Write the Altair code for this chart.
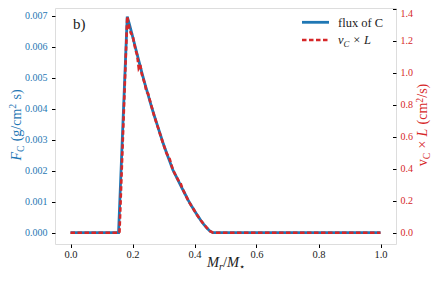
import altair as alt
import pandas as pd

# ---------------- data ----------------
x_flux = [0.0, 0.155, 0.183, 0.19, 0.20, 0.21, 0.22, 0.23, 0.24, 0.25, 0.26, 0.27, 0.28,
          0.29, 0.30, 0.31, 0.32, 0.33, 0.34, 0.35, 0.36, 0.37, 0.38, 0.39, 0.40, 0.41,
          0.42, 0.43, 0.44, 0.45, 0.46, 1.0]
flux_C = [0.0, 0.0, 0.00697, 0.00673, 0.00634, 0.00595, 0.00556, 0.00517, 0.00480, 0.00446,
          0.00411, 0.00378, 0.00347, 0.00316, 0.00285, 0.00257, 0.00230, 0.00203, 0.00183,
          0.00163, 0.00143, 0.00124, 0.00104, 0.00087, 0.00071, 0.00055, 0.00040, 0.00027,
          0.00015, 0.00005, 0.0, 0.0]

x_vL = [0.0, 0.158, 0.183, 0.19, 0.195, 0.20, 0.21, 0.215, 0.22, 0.225, 0.23, 0.24, 0.245,
        0.25, 0.26, 0.27, 0.28, 0.29, 0.30, 0.31, 0.315, 0.32, 0.33, 0.34, 0.35, 0.355,
        0.36, 0.37, 0.38, 0.39, 0.40, 0.41, 0.42, 0.43, 0.44, 0.45, 0.46, 1.0]
vC_L = [0.0, 0.0, 1.35, 1.275, 1.245, 1.235, 1.14, 1.11, 1.03, 1.05, 0.99, 0.93, 0.88,
        0.87, 0.80, 0.73, 0.67, 0.61, 0.55, 0.495, 0.48, 0.46, 0.395, 0.355, 0.32, 0.31,
        0.28, 0.24, 0.20, 0.168, 0.137, 0.106, 0.078, 0.053, 0.03, 0.01, 0.0, 0.0]

x_ticks = [0.0, 0.2, 0.4, 0.6, 0.8, 1.0]
left_ticks = [0.0, 0.001, 0.002, 0.003, 0.004, 0.005, 0.006, 0.007]
right_ticks = [0.0, 0.2, 0.4, 0.6, 0.8, 1.0, 1.2, 1.4]

BLUE = "#1f77b4"
RED = "#d62728"
DARK = "#222222"
FONT = "Liberation Serif"
W, H = 341, 236

df_flux = pd.DataFrame({"x": x_flux, "f": flux_C})
df_vl = pd.DataFrame({"x": x_vL, "v": vC_L})
one = pd.DataFrame({"a": [0]})

# approximate glyph widths (em) for laying out rich-text pieces
WN = {'(': .333, ')': .333, 'g': .5, '/': .278, 'c': .444, 'm': .778, 's': .389,
      'C': .667, '2': .5, 'f': .333, 'l': .278, 'u': .5, 'x': .5, 'o': .5, 'v': .5,
      '×': .564, 'b': .5, '⋆': .5}
WI = {'F': .611, 'v': .444, 'L': .556, 'M': .833, 'r': .389, 'C': .667}
SPACE = 0.3


def wid(t, it, s):
    tab = WI if it else WN
    return sum(SPACE if ch == ' ' else tab.get(ch, WN.get(ch, .5)) for ch in t) * s


def rich(parts, x, y, color, size, angle=0, center=True):
    total = sum(wid(t, it, size * sc) for t, it, sc, sh in parts)
    off = -total / 2 if center else 0
    layers = []
    for t, it, sc, sh in parts:
        s = size * sc
        lead = len(t) - len(t.lstrip(' '))
        core = t.strip(' ')
        off += lead * SPACE * s
        kw = dict(text=core, font=FONT, fontSize=s, fontStyle="italic" if it else "normal",
                  color=color, align="left", baseline="alphabetic", dx=off, dy=sh * size)
        if angle:
            kw["angle"] = angle
        layers.append(alt.Chart(one).mark_text(**kw).encode(x=alt.value(x), y=alt.value(y)))
        off += wid(t, it, s) - lead * SPACE * s
    return layers


xax = alt.Axis(values=x_ticks, format=".1f", title=None, grid=False, domain=False,
               tickSize=3.5, tickColor="black", labelFont=FONT, labelFontSize=10.5,
               labelColor=DARK, labelPadding=1.5)
xscale = alt.Scale(domain=[-0.05, 1.05], nice=False, zero=False)

blue = alt.Chart(df_flux).mark_line(color=BLUE, strokeWidth=2.8).encode(
    x=alt.X("x:Q", scale=xscale, axis=xax),
    y=alt.Y("f:Q", scale=alt.Scale(domain=[-0.000365, 0.007248], nice=False, zero=False),
            axis=alt.Axis(orient="left", values=left_ticks, format=".3f", title=None,
                          grid=False, domain=False, tickSize=3.5, tickColor="black",
                          labelFont=FONT, labelFontSize=10, labelColor=BLUE,
                          labelPadding=4.5)),
)

red = alt.Chart(df_vl).mark_line(color=RED, strokeWidth=2.6, strokeDash=[4.5, 2.5]).encode(
    x=alt.X("x:Q", scale=xscale, axis=xax),
    y=alt.Y("v:Q", scale=alt.Scale(domain=[-0.0704, 1.4037], nice=False, zero=False),
            axis=alt.Axis(orient="right", values=right_ticks, format=".1f", title=None,
                          grid=False, domain=False, tickSize=3.5, offset=-3.5,
                          tickColor="black", labelFont=FONT, labelFontSize=10,
                          labelColor=RED, labelPadding=4,
                          labelBaseline={"condition": {"test": "datum.value > 1.39",
                                                       "value": "top"},
                                         "value": "middle"})),
)

texts = []
# y-left title: F_C (g/cm^2 s)
texts += rich([("F", True, 1, 0), ("C", False, .7, .2), (" (g/cm", False, 1, 0),
               ("2", False, .7, -.35), (" s)", False, 1, 0)],
              x=-34, y=H / 2 - 1, color=BLUE, size=14, angle=270)
# y-right title: v_C x L (cm^2/s)
texts += rich([("v", False, 1, 0), ("C", False, .7, .2), (" × ", False, 1, 0),
               ("L", True, 1, 0), (" (cm", False, 1, 0), ("2", False, .7, -.3),
               ("/s)", False, 1, 0)],
              x=372, y=H / 2 - 1, color=RED, size=14, angle=270)
# x title: M_r / M_star
texts += rich([("M", True, 1, 0), ("r", True, .7, .2), ("/", False, 1, 0),
               ("M", True, 1, 0), ("⋆", False, .7, .2)],
              x=W / 2, y=259, color=DARK, size=14.5)
# panel label
texts += rich([("b)", False, 1, 0)], x=18, y=21, color=DARK, size=15, center=False)

# legend
leg = [
    alt.Chart(one).mark_rule(color=BLUE, strokeWidth=2.8).encode(
        x=alt.value(247), x2=alt.value(274), y=alt.value(14.3)),
    alt.Chart(one).mark_rule(color=RED, strokeWidth=2.6, strokeDash=[4.5, 2.5]).encode(
        x=alt.value(247), x2=alt.value(274), y=alt.value(32)),
]
leg += rich([("flux of C", False, 1, 0)], x=283, y=18.5, color=DARK, size=12.5, center=False)
leg += rich([("v", True, 1, 0), ("C", True, .7, .2), (" × ", False, 1, 0), ("L", True, 1, 0)],
            x=283, y=36, color=DARK, size=12.5, center=False)

chart = alt.layer(blue, red, *texts, *leg).resolve_scale(y="independent").properties(
    width=W, height=H,
    autosize=alt.AutoSizeParams(type="none"),
    padding={"left": 47, "top": 0, "right": 36, "bottom": 29},
).configure_view(stroke="black", strokeWidth=1.3).configure_axis(
    labelFont=FONT
).configure(background="white")

chart.save("out.html", embed_options={"renderer": "svg", "actions": False})
